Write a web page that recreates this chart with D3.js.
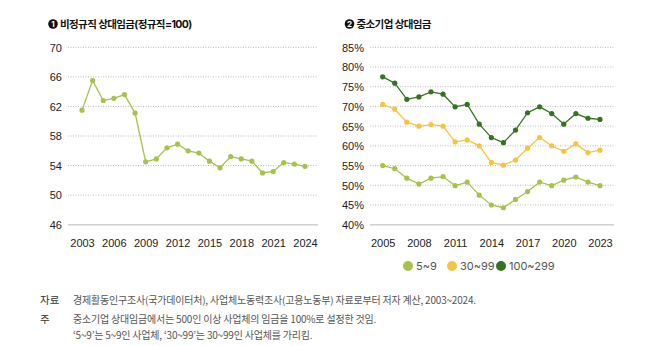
<!DOCTYPE html>
<html>
<head>
<meta charset="utf-8">
<script src="https://cdn.jsdelivr.net/npm/d3@7"></script>
<style>
  body { margin: 0; background: #fff; }
  svg { font-family: Inter, "Noto Sans CJK KR", sans-serif; }
</style>
</head>
<body>
<div id="chart"></div>
<script>
// 1. 비정규직 상대임금 (정규직=100)
const yearsA = d3.range(2003, 2025);
const irregular = [61.5, 65.5, 62.8, 63.1, 63.6, 61.1, 54.5, 54.9, 56.4, 56.9, 56.0, 55.7,
                   54.6, 53.7, 55.2, 54.9, 54.6, 53.0, 53.2, 54.4, 54.2, 53.9];
const ticksA = [46, 50, 54, 58, 62, 66, 70];
const xTicksA = [2003, 2006, 2009, 2012, 2015, 2018, 2021, 2024];

// 2. 중소기업 상대임금 (500인 이상 = 100%)
const yearsB = d3.range(2005, 2024);
const size5to9 = [55.0, 54.2, 51.8, 50.3, 51.8, 52.2, 49.9, 50.8, 47.5, 45.0, 44.3, 46.4,
                  48.4, 50.8, 49.9, 51.3, 52.1, 50.8, 49.9];
const size30to99 = [70.5, 69.3, 66.0, 65.0, 65.4, 65.0, 61.0, 61.5, 60.0, 55.8, 55.1, 56.4,
                    59.4, 62.1, 60.0, 58.6, 60.5, 58.3, 58.9];
const size100to299 = [77.5, 75.9, 71.8, 72.4, 73.7, 73.1, 69.9, 70.5, 65.5, 62.1, 60.8, 64.0,
                      68.4, 69.9, 68.2, 65.5, 68.2, 67.0, 66.7];
const ticksB = [40, 45, 50, 55, 60, 65, 70, 75, 80, 85];
const xTicksB = [2005, 2008, 2011, 2014, 2017, 2020, 2023];
const seriesNames = ["5~9", "30~99", "100~299"];

const width = 658, height = 346;
const green = "#a6c24b", yellow = "#f6c443", dark = "#347320";

const svg = d3.select("#chart").append("svg")
    .attr("width", width)
    .attr("height", height);

function title(x, num, label) {
    svg.append("circle").attr("cx", x).attr("cy", 24).attr("r", 4.8).attr("fill", "#111");
    svg.append("text").attr("x", x).attr("y", 27).attr("text-anchor", "middle")
        .attr("fill", "#fff").style("font-size", "8px").style("font-weight", "700").text(num);
    svg.append("text").attr("x", x + 7).attr("y", 28)
        .attr("fill", "#111").style("font-size", "10.5px").style("font-weight", "700")
        .style("letter-spacing", "-0.6px").text(label);
}

// 공통 격자 + 축
function panel(x, y, gx0, gx1, yTicks, fmt, xTicks, labelX) {
    const g = svg.append("g");
    yTicks.forEach(function (t, i) {
        g.append("line")
            .attr("x1", gx0).attr("x2", gx1)
            .attr("y1", y(t)).attr("y2", y(t))
            .attr("stroke", i === 0 ? "#cfcfcf" : "#a8a8a8")
            .attr("stroke-width", i === 0 ? 1.5 : 0.8)
            .attr("stroke-dasharray", i === 0 ? null : "1,1.5");
    });
    const yAxis = d3.axisLeft(y).tickValues(yTicks).tickFormat(fmt).tickSize(0);
    g.append("g").attr("transform", `translate(${labelX},0)`).call(yAxis)
        .call(a => a.select(".domain").remove())
        .selectAll("text").attr("fill", "#222").style("font-size", "11px")
        .attr("x", 0).attr("dy", "0.35em");
    const xAxis = d3.axisBottom(x).tickValues(xTicks).tickFormat(d3.format("d")).tickSize(0);
    g.append("g").attr("transform", `translate(0,${y.range()[0] + 12})`).call(xAxis)
        .call(a => a.select(".domain").remove())
        .selectAll("text").attr("fill", "#222").style("font-size", "11px");
}

function series(x, y, years, vals, color) {
    const line = d3.line().x((d, i) => x(years[i])).y(d => y(d));
    svg.append("path").datum(vals)
        .attr("d", line).attr("fill", "none")
        .attr("stroke", color).attr("stroke-width", 1.3);
    svg.append("g").selectAll("circle").data(vals).enter().append("circle")
        .attr("cx", (d, i) => x(years[i])).attr("cy", d => y(d))
        .attr("r", 2.6).attr("fill", color);
}

// 왼쪽
const xA = d3.scaleLinear().domain([2003, 2024]).range([82, 305]);
const yA = d3.scaleLinear().domain([46, 70]).range([224.7, 47.3]);
title(53, "1", "비정규직 상대임금(정규직=100)");
panel(xA, yA, 68, 318, ticksA, d3.format("d"), xTicksA, 62);
series(xA, yA, yearsA, irregular, green);

// 오른쪽
const xB = d3.scaleLinear().domain([2005, 2023]).range([382.7, 600]);
const yB = d3.scaleLinear().domain([40, 85]).range([224.7, 47.3]);
title(349.5, "2", "중소기업 상대임금");
panel(xB, yB, 370, 614, ticksB, d => d + "%", xTicksB, 364);
series(xB, yB, yearsB, size5to9, green);
series(xB, yB, yearsB, size30to99, yellow);
series(xB, yB, yearsB, size100to299, dark);

// 범례
const legendX = [408, 452, 501];
const legendColors = [green, yellow, dark];
seriesNames.forEach(function (name, i) {
    svg.append("circle").attr("cx", legendX[i]).attr("cy", 266).attr("r", 5)
        .attr("fill", legendColors[i]);
    svg.append("text").attr("x", legendX[i] + 8).attr("y", 270)
        .attr("fill", "#555").style("font-size", "11px").text(name);
});

// 출처 / 주
const notes = svg.append("g").style("font-size", "10px").attr("fill", "#555")
    .style("font-family", "\"Noto Sans CJK KR\", sans-serif");
notes.append("text").attr("x", 40).attr("y", 304).attr("fill", "#333").style("font-size", "10.5px").text("자료");
notes.append("text").attr("x", 73).attr("y", 304).style("letter-spacing", "-0.2px")
    .text("경제활동인구조사(국가데이터처), 사업체노동력조사(고용노동부) 자료로부터 저자 계산, 2003~2024.");
notes.append("text").attr("x", 40).attr("y", 323).attr("fill", "#333").style("font-size", "10.5px").text("주");
notes.append("text").attr("x", 73).attr("y", 323).style("letter-spacing", "-0.2px")
    .text("중소기업 상대임금에서는 500인 이상 사업체의 임금을 100%로 설정한 것임.");
notes.append("text").attr("x", 73).attr("y", 339).style("letter-spacing", "-0.2px")
    .text("‘5~9’는 5~9인 사업체, ‘30~99’는 30~99인 사업체를 가리킴.");
</script>
</body>
</html>
